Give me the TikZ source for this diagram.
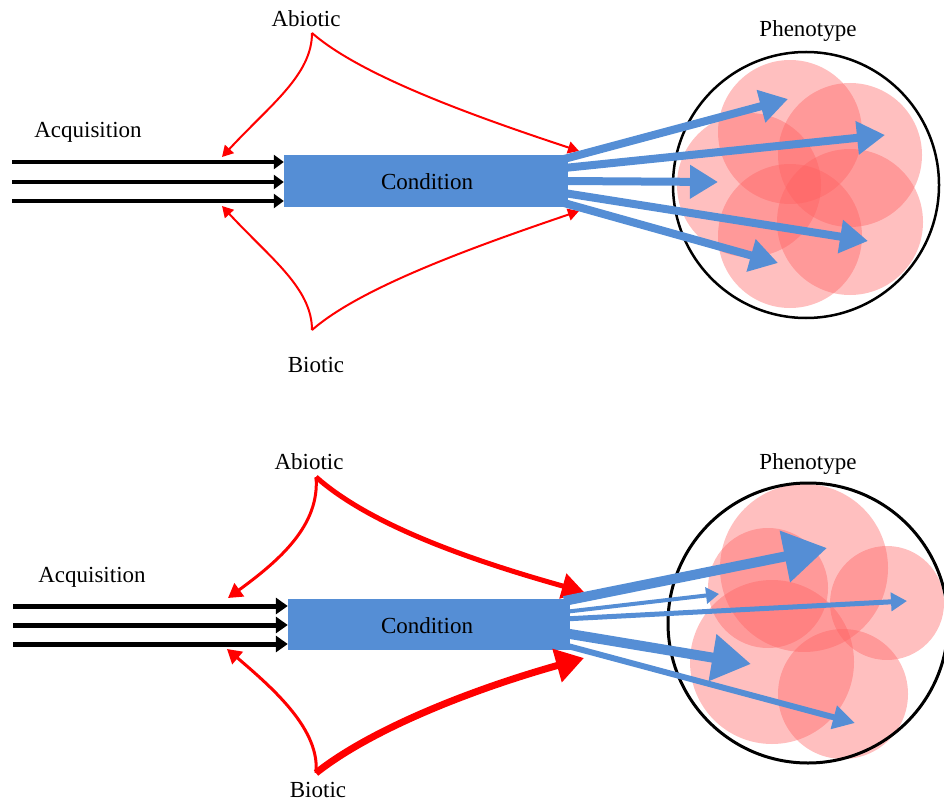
\documentclass[tikz,border=0pt]{standalone}
\usepackage{fontspec}
\setmainfont{Liberation Serif}
\usetikzlibrary{arrows.meta}
\definecolor{cblue}{RGB}{85,142,213}
\definecolor{pinkc}{RGB}{255,96,96}
\begin{document}
\begin{tikzpicture}[x=1pt,y=-1pt,
  lbl/.style={font=\fontsize{23}{27}\selectfont, inner sep=0pt, anchor=base},
  condbox/.style={fill=cblue, inner sep=0pt, minimum width=284pt, minimum height=52pt},
  petal/.style={fill=pinkc, fill opacity=0.4},
  outline/.style={draw=black, line width=2.5pt},
  acqA/.style={line width=3.5pt, -{Triangle[length=10pt,width=14pt]}},
  acqB/.style={line width=5pt, -{Triangle[length=12pt,width=16pt]}},
  redthin/.style={draw=red, line width=2pt, -{Triangle[length=11pt,width=12pt]}},
  redmid/.style={draw=red, line width=3pt, -{Triangle[length=14pt,width=16pt]}},
  redthick/.style={draw=red, line width=5pt, -{Triangle[length=22pt,width=25pt]}},
  redfat/.style={draw=red, line width=7pt, -{Triangle[length=28pt,width=33pt]}},
  bluearr/.style={draw=cblue, line width=8pt, -{Triangle[length=28pt,width=32pt]}},
]
\useasboundingbox (0,0) rectangle (944,802);

% ================= TOP =================
\fill[petal] (790,132) circle[radius=72pt];
\fill[petal] (850,155) circle[radius=72pt];
\fill[petal] (850,222) circle[radius=73pt];
\fill[petal] (790,236) circle[radius=72pt];
\fill[petal] (749,185) circle[radius=72pt];
\node[outline, circle, minimum size=266pt, inner sep=0pt] (phA) at (806,185) {};

\node[condbox] (condA) at (426,181) {};
\node[lbl] at (427,190) {Condition};
\node[lbl] (acqlA) at (88,138) {Acquisition};
\node[lbl] (abA) at (306,27) {Abiotic};
\node[lbl] (biA) at (316,372) {Biotic};
\node[lbl] (phlA) at (808,37) {Phenotype};

\coordinate (a1) at (12,162);
\coordinate (a2) at (12,182);
\coordinate (a3) at (12,201);
\draw[acqA] (a1) -- (condA.west |- a1);
\draw[acqA] (a2) -- (condA.west |- a2);
\draw[acqA] (a3) -- (condA.west |- a3);

\coordinate (vA) at (312,33);
\coordinate (wA) at (312,330);
\coordinate (tlA) at (222,157);
\coordinate (trA) at (579,151);
\coordinate (blA) at (222,206);
\coordinate (brA) at (579,211);
\draw[redthin] (vA) .. controls (312,75) and (270,105) .. (tlA);
\draw[redthin] (vA) .. controls (360,75) and (470,115) .. (trA);
\draw[redthin] (wA) .. controls (312,288) and (270,258) .. (blA);
\draw[redthin] (wA) .. controls (360,288) and (470,248) .. (brA);

\coordinate (s1) at (564,159);
\coordinate (s2) at (564,168);
\coordinate (s3) at (564,181);
\coordinate (s4) at (564,193);
\coordinate (s5) at (564,203);
\coordinate (e1) at (788,99);
\coordinate (e2) at (885,135);
\coordinate (e3) at (718,182);
\coordinate (e4) at (868,241);
\coordinate (e5) at (778,263);
\draw[bluearr] (s1) -- (e1);
\draw[bluearr] (s2) -- (e2);
\draw[bluearr] (s3) -- (e3);
\draw[bluearr] (s4) -- (e4);
\draw[bluearr] (s5) -- (e5);

% ================= BOTTOM =================
\fill[petal] (804,568) circle[radius=84pt];
\fill[petal] (768,588) circle[radius=60pt];
\fill[petal] (887,603) circle[radius=57pt];
\fill[petal] (772,662) circle[radius=82pt];
\fill[petal] (843,694) circle[radius=65pt];
\node[outline, line width=3pt, circle, minimum size=280pt, inner sep=0pt] (phB) at (808,623) {};

\node[condbox, minimum width=282pt, minimum height=51pt] (condB) at (429,624) {};
\node[lbl] at (427,633) {Condition};
\node[lbl] (acqlB) at (92,582) {Acquisition};
\node[lbl] (abB) at (309,469) {Abiotic};
\node[lbl] (biB) at (318,797) {Biotic};
\node[lbl] (phlB) at (808,469) {Phenotype};

\coordinate (b1) at (13,606);
\coordinate (b2) at (13,625);
\coordinate (b3) at (13,644);
\draw[acqB] (b1) -- (condB.west |- b1);
\draw[acqB] (b2) -- (condB.west |- b2);
\draw[acqB] (b3) -- (condB.west |- b3);

\coordinate (vB) at (316,477);
\coordinate (wB) at (316,773);
\coordinate (tlB) at (228,598);
\coordinate (trB) at (584,592);
\coordinate (blB) at (227,649);
\coordinate (brB) at (584,658);
\draw[redmid] (vB) .. controls (320,525) and (280,560) .. (tlB);
\draw[redthick] (vB) .. controls (370,525) and (470,560) .. (trB);
\draw[redmid] (wB) .. controls (320,730) and (275,690) .. (blB);
\draw[redfat] (wB) .. controls (370,730) and (470,690) .. (brB);

\coordinate (u1) at (564,601);
\coordinate (u2) at (564,612);
\coordinate (u3) at (564,619);
\coordinate (u4) at (564,633);
\coordinate (u5) at (564,645);
\coordinate (f1) at (827,548);
\coordinate (f2) at (719,594);
\coordinate (f3) at (907,601);
\coordinate (f4) at (751,664);
\coordinate (f5) at (855,723);
\draw[draw=cblue, line width=10pt, -{Triangle[length=43pt,width=50pt]}] (u1) -- (f1);
\draw[draw=cblue, line width=4pt, -{Triangle[length=13pt,width=16pt]}] (u2) -- (f2);
\draw[draw=cblue, line width=5pt, -{Triangle[length=16pt,width=18pt]}] (u3) -- (f3);
\draw[draw=cblue, line width=10pt, -{Triangle[length=39pt,width=45pt]}] (u4) -- (f4);
\draw[draw=cblue, line width=6pt, -{Triangle[length=22pt,width=23pt]}] (u5) -- (f5);
\end{tikzpicture}
\end{document}
